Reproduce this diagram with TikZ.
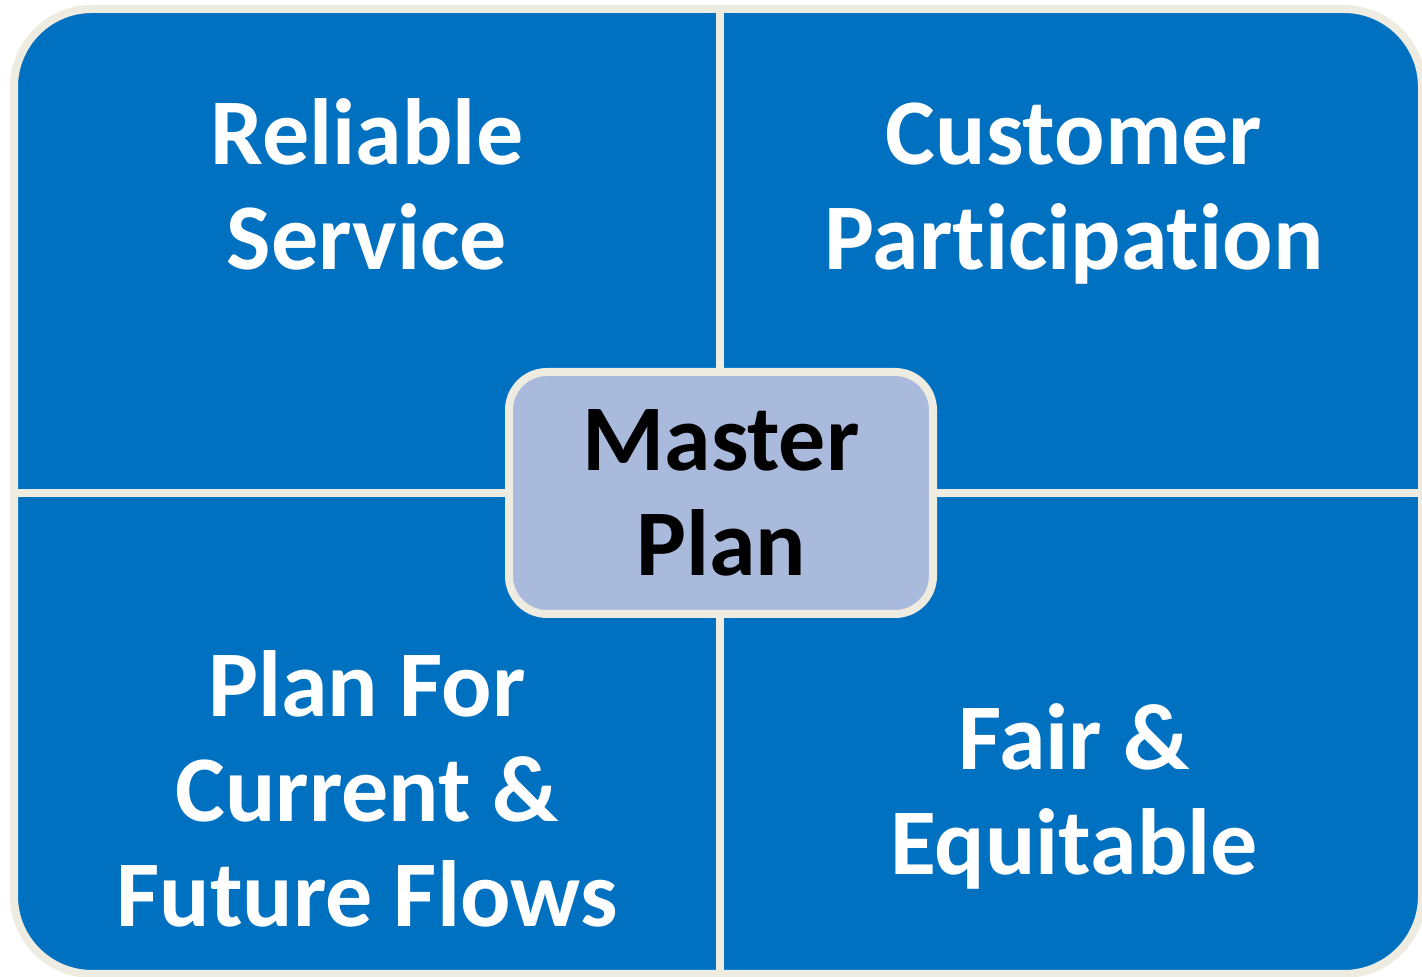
\documentclass[tikz,border=0pt]{standalone}
\usepackage{fontspec}
\setmainfont{Carlito}[Ligatures=NoCommon]
\usetikzlibrary{shadows}
\definecolor{quad_blue}{RGB}{0,112,192}
\definecolor{frame_cream}{RGB}{238,236,225}
\definecolor{hub_blue}{RGB}{170,186,220}

\begin{document}
\begin{tikzpicture}[x=1pt, y=1pt,
        nodes={align=center, inner sep=0, font={\fontsize{94}{105}\selectfont\bfseries}},
        frame_style/.style={rectangle, rounded corners=78, draw=frame_cream, line width=8,
          fill=quad_blue, drop shadow={shadow xshift=0, shadow yshift=-3, opacity=0.3}},
        divider_style/.style={draw=frame_cream, line width=8},
        hub_style/.style={rectangle, rounded corners=38, draw=frame_cream, line width=8,
          fill=hub_blue, text=black, drop shadow={shadow xshift=3, shadow yshift=-3, opacity=0.35}},
        label_style/.style={text=white, anchor=base}]

      \useasboundingbox (0,0) rectangle (1422,977);

      \node[frame_style, minimum width=1408, minimum height=965] (frame) at (718,485.5) {};

      \coordinate (div_top) at (720,968);
      \coordinate (div_bottom) at (720,3);
      \coordinate (div_left) at (14,484);
      \coordinate (div_right) at (1422,484);
      \draw[divider_style] (div_top) -- (div_bottom);
      \draw[divider_style] (div_left) -- (div_right);

      % base anchor sits on the last line
      \node[label_style] (reliable) at (367,707) {Reliable\\Service};
      \node[label_style] (customer) at (1074,707) {Customer\\Participation};
      \node[label_style] (flows) at (367,50) {Plan For\\Current \&\\Future Flows};
      \node[label_style] (fair) at (1074,102) {Fair \&\\Equitable};

      \node[hub_style, minimum width=424, minimum height=242] (master_plan) at (721,484) {Master\\Plan};
    \end{tikzpicture}
\end{document}
